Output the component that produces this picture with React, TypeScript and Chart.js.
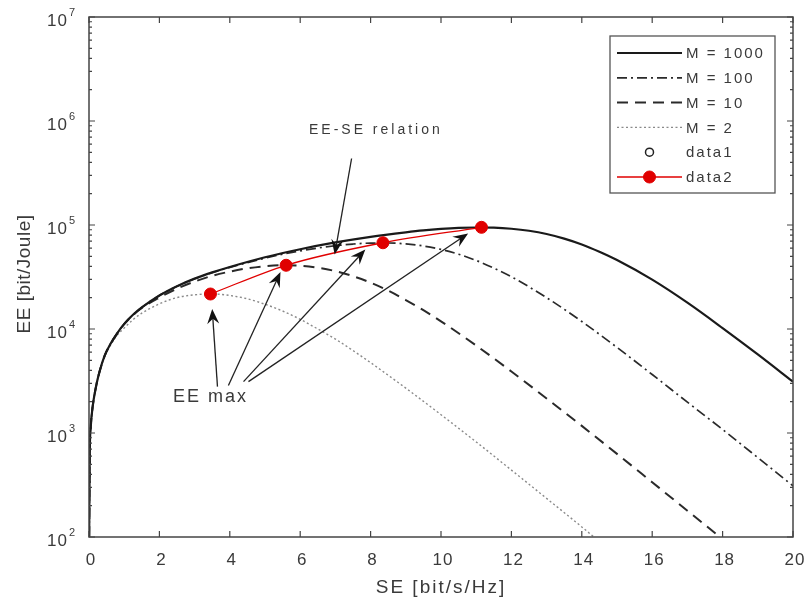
import React, { useEffect, useRef } from "react";
import { Chart, registerables } from "chart.js";

Chart.register(...registerables);

// ---------------- data ----------------
const se1000 = [0.005, 0.02, 0.05, 0.1, 0.2, 0.3, 0.45, 0.6, 0.8, 1, 1.25, 1.5, 2, 2.5, 3, 3.5, 4, 5, 6, 7, 8, 9, 9.5, 10, 10.5, 11, 11.5, 12, 12.5, 13, 13.5, 14, 14.5, 15, 16, 17, 18, 19, 20];
const ee1000 = [100, 600, 1150, 1750, 2800, 3900, 5600, 7100, 9100, 11200, 13700, 16100, 21000, 25800, 30500, 35000, 39500, 49000, 58500, 68000, 77000, 85000, 88700, 91600, 93700, 94600, 94200, 92000, 88000, 82000, 74000, 65000, 55300, 46000, 29800, 17900, 10200, 5690, 3110];

const se100 = [0.005, 0.02, 0.05, 0.1, 0.2, 0.3, 0.45, 0.6, 0.8, 1, 1.25, 1.5, 2, 2.5, 3, 3.5, 4, 5, 6, 7, 7.5, 8, 8.5, 9, 9.5, 10, 10.5, 11, 11.5, 12, 13, 14, 15, 16, 17, 18, 19, 20];
const ee100 = [100, 600, 1150, 1750, 2800, 3900, 5600, 7100, 9100, 11200, 13700, 16100, 21000, 25750, 30400, 34800, 39100, 48000, 56400, 63200, 65600, 67000, 67100, 65800, 62800, 58200, 52400, 45600, 38500, 31800, 20000, 11800, 6650, 3650, 1980, 1080, 580, 310];

const se10 = [0.005, 0.02, 0.05, 0.1, 0.2, 0.3, 0.45, 0.6, 0.8, 1, 1.25, 1.5, 2, 2.5, 3, 3.5, 4, 4.5, 5, 5.5, 6, 6.5, 7, 7.5, 8, 8.5, 9, 9.5, 10, 11, 12, 13, 14, 15, 16, 17, 18, 18.5];
const ee10 = [100, 600, 1150, 1750, 2800, 3890, 5580, 7060, 9030, 11120, 13560, 15900, 20050, 24430, 28600, 32440, 35640, 38300, 40150, 41000, 40600, 38900, 36000, 32200, 27900, 23360, 19000, 15170, 11850, 6930, 3900, 2150, 1170, 630, 336, 179, 95, 68];

const se2 = [0.005, 0.02, 0.05, 0.1, 0.2, 0.3, 0.45, 0.6, 0.8, 1, 1.25, 1.5, 2, 2.5, 3, 3.5, 4, 4.5, 5, 5.5, 6, 6.5, 7, 7.5, 8, 9, 10, 11, 12, 13, 14, 15];
const ee2 = [100, 600, 1150, 1740, 2780, 3850, 5480, 6890, 8720, 10200, 12300, 14190, 17440, 20050, 21300, 21720, 21000, 19500, 17300, 14900, 12400, 10000, 8000, 6200, 4750, 2700, 1500, 820, 440, 235, 125, 65];

const seMax = [3.45, 5.6, 8.35, 11.15];
const eeMax = [21700, 41000, 67500, 95000];

const xTicks = [0, 2, 4, 6, 8, 10, 12, 14, 16, 18, 20];
const yTickExponents = [2, 3, 4, 5, 6, 7];
const yMinorFactors = [2, 3, 4, 5, 6, 7, 8, 9];

const legendLabels = ["M = 1000", "M = 100", "M = 10", "M = 2", "data1", "data2"];

const arrowTailSE = [7.46, 3.65, 3.96, 4.39, 4.53];
const arrowTailEE = [436000, 2790, 2856, 3120, 3120];
const arrowHeadSE = [6.98, 3.5, 5.44, 7.85, 10.77];
const arrowHeadEE = [52000, 15600, 35300, 58000, 83000];

const noteTexts = ["EE-SE relation", "EE max"];
const noteSE = [8.15, 3.45];
const noteEE = [809000, 2240];

const xTitle = "SE [bit/s/Hz]";
const yTitle = "EE [bit/Joule]";

// ---------------- helpers ----------------
const FONT = "'Liberation Sans', Arial, Helvetica, sans-serif";
const toPts = (xs: number[], ys: number[]) => xs.map((x, i) => ({ x, y: ys[i] }));

function drawArrow(ctx: CanvasRenderingContext2D, x1: number, y1: number, x2: number, y2: number) {
  const a = Math.atan2(y2 - y1, x2 - x1);
  const L = 15, W = 6;
  const cx = Math.cos(a), sy = Math.sin(a);
  ctx.save();
  ctx.strokeStyle = "#222";
  ctx.fillStyle = "#111";
  ctx.lineWidth = 1.3;
  ctx.beginPath();
  ctx.moveTo(x1, y1);
  ctx.lineTo(x2 - cx * L * 0.6, y2 - sy * L * 0.6);
  ctx.stroke();
  ctx.beginPath();
  ctx.moveTo(x2, y2);
  ctx.lineTo(x2 - cx * L - sy * W, y2 - sy * L + cx * W);
  ctx.lineTo(x2 - cx * L * 0.65, y2 - sy * L * 0.65);
  ctx.lineTo(x2 - cx * L + sy * W, y2 - sy * L - cx * W);
  ctx.closePath();
  ctx.fill();
  ctx.restore();
}

const decor = {
  id: "matlabDecor",
  beforeDraw(chart: any) {
    const ctx = chart.ctx;
    ctx.save();
    ctx.fillStyle = "#ffffff";
    ctx.fillRect(0, 0, chart.width, chart.height);
    ctx.restore();
  },
  afterDraw(chart: any) {
    const ctx: CanvasRenderingContext2D = chart.ctx;
    const xs = chart.scales.x;
    const ys = chart.scales.y;
    const { left, right, top, bottom } = chart.chartArea;

    ctx.save();
    // annotations
    for (let i = 0; i < arrowTailSE.length; i++) {
      drawArrow(
        ctx,
        xs.getPixelForValue(arrowTailSE[i]), ys.getPixelForValue(arrowTailEE[i]),
        xs.getPixelForValue(arrowHeadSE[i]), ys.getPixelForValue(arrowHeadEE[i])
      );
    }
    ctx.fillStyle = "#3a3a3a";
    ctx.textAlign = "center";
    ctx.textBaseline = "middle";
    (ctx as any).letterSpacing = "3px";
    ctx.font = `14px ${FONT}`;
    ctx.fillText(noteTexts[0], xs.getPixelForValue(noteSE[0]), ys.getPixelForValue(noteEE[0]));
    (ctx as any).letterSpacing = "2px";
    ctx.font = `18px ${FONT}`;
    ctx.fillText(noteTexts[1], xs.getPixelForValue(noteSE[1]), ys.getPixelForValue(noteEE[1]));

    // axes box
    ctx.strokeStyle = "#444";
    ctx.lineWidth = 1.5;
    ctx.strokeRect(left, top, right - left, bottom - top);

    // x ticks
    ctx.lineWidth = 1.2;
    ctx.beginPath();
    xTicks.forEach((t) => {
      const px = xs.getPixelForValue(t);
      ctx.moveTo(px, bottom); ctx.lineTo(px, bottom - 6);
      ctx.moveTo(px, top); ctx.lineTo(px, top + 6);
    });
    // y ticks
    yTickExponents.forEach((e) => {
      const py = ys.getPixelForValue(Math.pow(10, e));
      ctx.moveTo(left, py); ctx.lineTo(left + 6, py);
      ctx.moveTo(right, py); ctx.lineTo(right - 6, py);
      if (e < 7) {
        yMinorFactors.forEach((f) => {
          const pm = ys.getPixelForValue(f * Math.pow(10, e));
          ctx.moveTo(left, pm); ctx.lineTo(left + 3, pm);
          ctx.moveTo(right, pm); ctx.lineTo(right - 3, pm);
        });
      }
    });
    ctx.stroke();

    // tick labels
    ctx.fillStyle = "#3a3a3a";
    (ctx as any).letterSpacing = "1px";
    ctx.font = `17px ${FONT}`;
    ctx.textAlign = "center";
    ctx.textBaseline = "middle";
    xTicks.forEach((t) => {
      ctx.fillText(String(t), xs.getPixelForValue(t) + 2, bottom + 23);
    });
    yTickExponents.forEach((e) => {
      const py = ys.getPixelForValue(Math.pow(10, e));
      ctx.font = `17px ${FONT}`;
      ctx.textAlign = "right";
      ctx.fillText("10", left - 21, py + 4);
      ctx.font = `11px ${FONT}`;
      ctx.textAlign = "left";
      ctx.fillText(String(e), left - 20, py - 4);
    });

    // axis titles
    (ctx as any).letterSpacing = "2px";
    ctx.font = `19px ${FONT}`;
    ctx.textAlign = "center";
    ctx.fillText(xTitle, (left + right) / 2, bottom + 51);
    ctx.save();
    ctx.translate(25, (top + bottom) / 2 - 3);
    ctx.rotate(-Math.PI / 2);
    (ctx as any).letterSpacing = "0.5px";
    ctx.fillText(yTitle, 0, 0);
    ctx.restore();

    // legend
    const bx = right - 183, by = top + 19, bw = 165, bh = 157;
    ctx.fillStyle = "#fff";
    ctx.fillRect(bx, by, bw, bh);
    ctx.strokeStyle = "#555";
    ctx.lineWidth = 1.3;
    ctx.strokeRect(bx, by, bw, bh);
    legendLabels.forEach((lab, i) => {
      const ds = chart.data.datasets.find((d: any) => d.label === lab);
      const cy = by + 17 + i * 24.8;
      const x1 = bx + 7, x2 = bx + 72, xc = (x1 + x2) / 2;
      if (ds.showLine !== false) {
        ctx.save();
        ctx.strokeStyle = ds.borderColor;
        ctx.lineWidth = ds.borderWidth;
        ctx.setLineDash(ds.borderDash || []);
        ctx.beginPath();
        ctx.moveTo(x1, cy); ctx.lineTo(x2, cy);
        ctx.stroke();
        ctx.restore();
      }
      if (ds.pointRadius > 0) {
        ctx.save();
        ctx.beginPath();
        ctx.arc(xc, cy, ds.pointRadius, 0, Math.PI * 2);
        if (ds.pointBackgroundColor && ds.pointBackgroundColor !== "rgba(0,0,0,0)") {
          ctx.fillStyle = ds.pointBackgroundColor;
          ctx.fill();
        }
        ctx.strokeStyle = ds.pointBorderColor;
        ctx.lineWidth = ds.pointBorderWidth || 1;
        ctx.stroke();
        ctx.restore();
      }
      ctx.fillStyle = "#3a3a3a";
      (ctx as any).letterSpacing = "2px";
      ctx.font = `15px ${FONT}`;
      ctx.textAlign = "left";
      ctx.textBaseline = "middle";
      ctx.fillText(lab, x2 + 4, cy + 1);
    });
    ctx.restore();
  },
};

export default function App() {
  const ref = useRef<HTMLCanvasElement>(null);
  useEffect(() => {
    const canvas = ref.current;
    if (!canvas) return;
    const datasets: any[] = [
      {
        label: "data2", data: toPts(seMax, eeMax), borderColor: "#e00000", borderWidth: 1.3,
        pointRadius: 6, pointBackgroundColor: "#e00000", pointBorderColor: "#e00000", pointBorderWidth: 1, showLine: true,
      },
      {
        label: "data1", data: toPts(seMax, eeMax), showLine: false, borderColor: "#222",
        pointRadius: 4, pointBackgroundColor: "rgba(0,0,0,0)", pointBorderColor: "#222", pointBorderWidth: 1.5,
      },
      { label: "M = 1000", data: toPts(se1000, ee1000), borderColor: "#1a1a1a", borderWidth: 2.2, pointRadius: 0 },
      { label: "M = 100", data: toPts(se100, ee100), borderColor: "#2a2a2a", borderWidth: 1.7, borderDash: [10, 4, 2, 4], pointRadius: 0 },
      { label: "M = 10", data: toPts(se10, ee10), borderColor: "#2a2a2a", borderWidth: 2, borderDash: [11, 7], pointRadius: 0 },
      { label: "M = 2", data: toPts(se2, ee2), borderColor: "#8a8a8a", borderWidth: 1.4, borderDash: [2, 2.5], pointRadius: 0 },
    ];
    const chart = new Chart(canvas, {
      type: "line",
      data: { datasets },
      options: {
        animation: false,
        responsive: false,
        devicePixelRatio: 1,
        events: [],
        cubicInterpolationMode: "monotone" as any,
        layout: { padding: { top: 17, right: 16, left: 0, bottom: 0 } },
        plugins: { legend: { display: false }, tooltip: { enabled: false } },
        scales: {
          x: {
            type: "linear", min: 0, max: 20,
            ticks: { display: false }, grid: { display: false }, border: { display: false },
            afterFit: (s: any) => { s.height = 68; },
          },
          y: {
            type: "logarithmic", min: 100, max: 1e7,
            ticks: { display: false }, grid: { display: false }, border: { display: false },
            afterFit: (s: any) => { s.width = 89; },
          },
        },
      } as any,
      plugins: [decor],
    });
    return () => chart.destroy();
  }, []);
  return (
    <div style={{ position: "absolute", left: 0, top: 0, width: 809, height: 605, background: "#fff" }}>
      <canvas ref={ref} width={809} height={605} style={{ display: "block", width: 809, height: 605 }} />
    </div>
  );
}
